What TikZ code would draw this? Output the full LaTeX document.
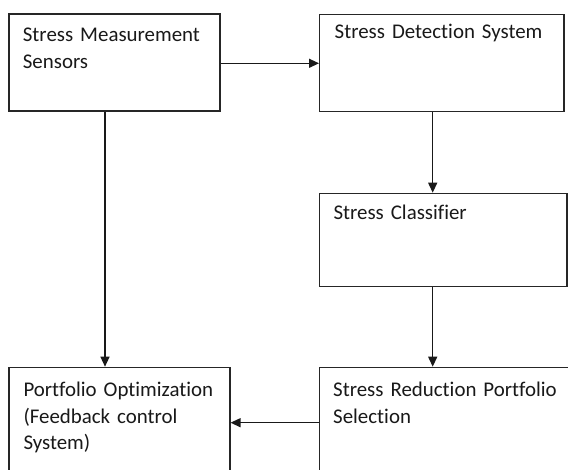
\documentclass[tikz,border=0pt]{standalone}
\usepackage{fontspec}
\setmainfont{Carlito}[Ligatures={NoCommon}]
\usetikzlibrary{arrows.meta,calc}
\begin{document}
\begin{tikzpicture}[x=1pt,y=-1pt,
  box/.style={draw=black!85,line width=1.25pt,rectangle,inner sep=0pt,anchor=north west},
  lbl/.style={inner sep=0pt,anchor=base west,text width=240pt,align=left,font=\fontsize{20.9}{26.6}\selectfont,text=black!90},
  arr/.style={draw=black!90,line width=1.3pt,-{Triangle[length=10pt,width=9pt]}}]
\useasboundingbox (0,0) rectangle (568,470);
\fill[white] (0,0) rectangle (568,470);
\clip (0,0) rectangle (568,470);
% boxes
\node[box,minimum width=211pt,minimum height=97.2pt] (A) at (8.3,13.3) {};
\node[box,minimum width=244.3pt,minimum height=97.2pt] (B) at (319,13.8) {};
\node[box,minimum width=247.8pt,minimum height=93.3pt] (C) at (318.5,192.7) {};
\node[box,minimum width=270pt,minimum height=120pt] (D) at (319,366.7) {};
\node[box,minimum width=221pt,minimum height=120pt] (E) at (8.3,366.7) {};
% labels
\node[lbl] (tA) at (22.7,41.7) {Stress Measurement\\Sensors};
\node[lbl] (tB) at (334.5,38.3) {Stress Detection System};
\node[lbl] (tC) at (333.3,219.3) {Stress Classifier};
\node[lbl] (tD) at (333,396.7) {Stress Reduction Portfolio\\Selection};
\node[lbl] (tE) at (23.3,396.7) {Portfolio Optimization\\(Feedback control\\System)};
% helper coordinates
\coordinate (xl) at (105,0);
\coordinate (xr) at (432.7,0);
\coordinate (ytop) at (0,63.3);
\coordinate (ybot) at (0,422.7);
% connectors
\draw[arr] (A.east |- ytop) -- (B.west |- ytop);
\draw[arr] (B.south -| xr) -- (C.north -| xr);
\draw[arr] (C.south -| xr) -- (D.north -| xr);
\draw[arr] (A.south -| xl) -- (E.north -| xl);
\draw[arr] (D.west |- ybot) -- (E.east |- ybot);
\end{tikzpicture}
\end{document}
